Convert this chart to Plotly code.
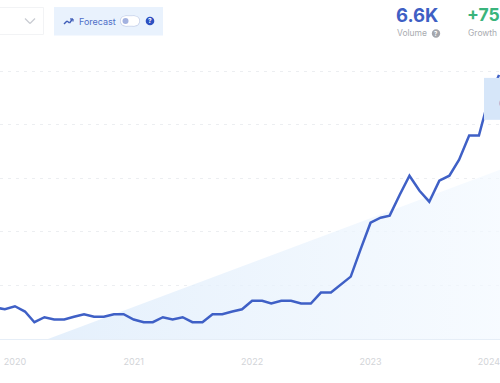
import plotly.graph_objects as go
import pandas as pd

months = pd.date_range("2019-11-01", "2024-02-01", freq="MS")
volume = [788, 745, 820, 688, 420, 545, 488, 488, 555, 620, 555, 555, 620, 620,
          488, 420, 420, 545, 488, 545, 420, 420, 620, 620, 688, 745,
          955, 955, 888, 955, 955, 888, 888, 1162, 1162, 1362, 1562, 2238,
          2912, 3038, 3088, 3612, 4088, 3712, 3438, 3962, 4088, 4488, 5095, 5095,
          6038, 6612]
trend_dates = ["2020-04-12", "2024-02-04"]
trend_values = [0, 4240]
year_ticks = ["2020-01-01", "2021-01-01", "2022-01-01", "2023-01-01", "2024-01-01"]
year_labels = ["2020", "2021", "2022", "2023", "2024"]
grid_values = [0, 1340, 2680, 4020, 5360, 6700]

W, H = 500, 383
BASE = 339.5
def px(x): return x / W
def py(y): return (BASE - y) / BASE

fig = go.Figure()
fig.add_trace(go.Scatter(
    x=trend_dates, y=trend_values, mode="lines", line=dict(width=0),
    fill="tozeroy",
    fillgradient=dict(type="horizontal", colorscale=[[0, "rgba(222,236,251,0.8)"], [1, "rgba(243,249,255,0.7)"]]),
    hoverinfo="skip", showlegend=False))
fig.add_trace(go.Scatter(
    x=months, y=volume, mode="lines", line=dict(color="#3f60c6", width=2.5),
    hoverinfo="skip", showlegend=False))

def rect(x0, y0, x1, y1, fill, line=None):
    return dict(type="rect", xref="paper", yref="paper", x0=px(x0), x1=px(x1), y0=py(y1), y1=py(y0),
                fillcolor=fill, line=dict(color=line or fill, width=1 if line else 0), layer="above")
def circle(cx, cy, r, fill):
    return dict(type="circle", xref="paper", yref="paper", x0=px(cx-r), x1=px(cx+r), y0=py(cy+r), y1=py(cy-r),
                fillcolor=fill, line=dict(width=0), layer="above")
def poly(pts, color, width=1.2):
    out = []
    for (a, b), (c, d) in zip(pts, pts[1:]):
        out.append(dict(type="line", xref="paper", yref="paper", x0=px(a), y0=py(b), x1=px(c), y1=py(d),
                        line=dict(color=color, width=width), layer="above"))
    return out

shapes = [
    rect(-5, 7.5, 43.5, 34.5, "#ffffff", "#f2f3f5"),
    rect(54, 7, 163, 35.5, "#e9f2fd"),
    circle(125.5, 21, 5.6, "#c9d3ea"),
    circle(134.5, 21, 5.6, "#c9d3ea"),
    rect(125.5, 15.4, 134.5, 26.6, "#c9d3ea"),
    circle(125.5, 21, 4.8, "#ffffff"),
    circle(134.5, 21, 4.8, "#ffffff"),
    rect(125.5, 16.2, 134.5, 25.8, "#ffffff"),
    circle(125.5, 21, 3, "#a3b2e0"),
    circle(150, 21, 4.3, "#2c50c2"),
    circle(436, 33.5, 4.2, "#a3a6ac"),
    rect(484, 78, 501, 120, "#d6e6f9"),
]
shapes += poly([(25, 18.5), (30, 23.5), (35, 18.5)], "#c9ccd2")
shapes += poly([(64, 24), (67, 21), (69.5, 23), (72.5, 19)], "#3e5cb8", 1.4)
shapes += poly([(70, 19), (73, 19), (73, 21.5)], "#3e5cb8", 1.2)

def note(text, x, y, size, color, anchor="left", bold=False):
    t = f"<b>{text}</b>" if bold else text
    return dict(text=t, xref="paper", yref="paper", x=px(x), y=py(y), xanchor=anchor, yanchor="middle",
                showarrow=False, font=dict(family="Inter, Roboto, sans-serif", size=size, color=color))

annotations = [
    note("Forecast", 76.5, 21.5, 9, "#4f6fc8"),
    note("?", 150, 21, 6.5, "#ffffff", "center", True),
    note("6.6K", 417, 15, 18.5, "#3f5fc4", "center", True),
    note("+75", 465, 15, 17.5, "#39b47c", "left", True),
    note("Volume", 394.5, 33.5, 8.5, "#a9abb0"),
    note("?", 436, 33.5, 6, "#ffffff", "center", True),
    note("Growth", 465.5, 33.5, 8.5, "#a9abb0"),
    note("6", 497, 103, 11, "#4a6bc5"),
]

fig.update_layout(
    width=W, height=H, autosize=False,
    margin=dict(l=0, r=0, t=0, b=H - BASE, pad=0),
    paper_bgcolor="#ffffff", plot_bgcolor="#ffffff",
    showlegend=False, shapes=shapes, annotations=annotations,
    xaxis=dict(type="date", range=["2019-11-16", "2024-02-04"], tickmode="array",
               tickvals=year_ticks, ticktext=year_labels, showgrid=False, showline=False, ticks="",
               ticklabelstandoff=16, ticklabeloverflow="allow",
               tickfont=dict(family="Inter, Roboto, sans-serif", size=9, color="#d2d4d8")),
    yaxis=dict(range=[0, BASE / 40 * 1000], tickmode="array", tickvals=grid_values, showticklabels=False,
               ticks="", showline=False, showgrid=True, gridcolor="#eceef1", griddash="3px,5px", gridwidth=1,
               zeroline=True, zerolinecolor="#e6eef7", zerolinewidth=1),
)
fig.write_html("out.html", config=dict(displayModeBar=False),
               post_script="document.body.style.margin='0';document.documentElement.style.overflow='hidden';")
